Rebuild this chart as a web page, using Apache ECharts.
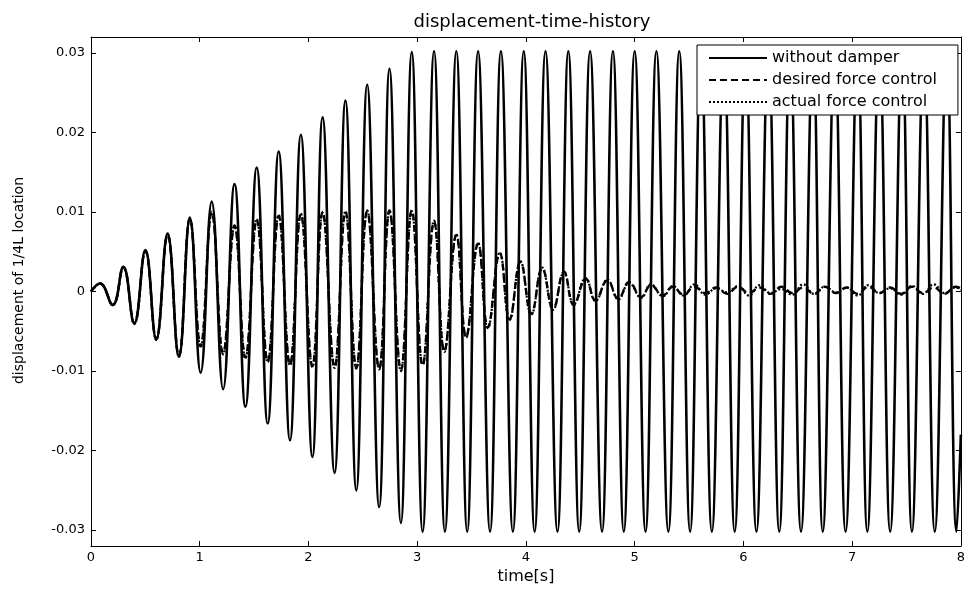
<!DOCTYPE html>
<html>
<head>
<meta charset="utf-8">
<script src="https://cdn.jsdelivr.net/npm/echarts@6/dist/echarts.min.js"></script>
<style>html,body{margin:0;padding:0;background:#fff}#c{width:968px;height:590px}</style>
</head>
<body>
<div id="c"></div>
<script>
// ---- data ----
var seriesNames = ['without damper', 'desired force control', 'actual force control'];
var xTicks = [0, 1, 2, 3, 4, 5, 6, 7, 8];
var xTickLabels = ['0', '1', '2', '3', '4', '5', '6', '7', '8'];
var yTicks = [-0.03, -0.02, -0.01, 0, 0.01, 0.02, 0.03];
var yTickLabels = ['-0.03', '-0.02', '-0.01', '0', '0.01', '0.02', '0.03'];

// without damper: start/end points, peak and trough times/values
var uStart = [0, 0];
var uEnd = [8.0, -0.018];
var uPeakT = [0.083,0.297,0.500,0.704,0.909,1.110,1.320,1.524,1.726,1.930,2.130,2.340,2.540,2.745,2.950,3.155,3.360,3.560,3.770,3.980,4.180,4.390,4.590,4.800,5.000,5.200,5.410,5.610,5.820,6.020,6.230,6.430,6.640,6.840,7.050,7.250,7.460,7.660,7.870];
var uPeakV = [0.0010,0.0031,0.0052,0.0073,0.0093,0.0113,0.0135,0.0156,0.0176,0.0197,0.0219,0.0240,0.0260,0.0280,0.0301,0.0302,0.0302,0.0302,0.0302,0.0302,0.0302,0.0302,0.0302,0.0302,0.0302,0.0302,0.0302,0.0302,0.0302,0.0302,0.0302,0.0302,0.0302,0.0302,0.0302,0.0302,0.0302,0.0302,0.0302];
var uTroughT = [0.199,0.398,0.600,0.808,1.008,1.215,1.420,1.625,1.830,2.036,2.240,2.440,2.650,2.850,3.050,3.255,3.460,3.670,3.880,4.080,4.290,4.490,4.700,4.900,5.100,5.310,5.510,5.710,5.920,6.120,6.330,6.530,6.730,6.940,7.140,7.350,7.550,7.760,7.960];
var uTroughV = [-0.0017,-0.0040,-0.0060,-0.0082,-0.0102,-0.0123,-0.0145,-0.0166,-0.0187,-0.0208,-0.0228,-0.0250,-0.0271,-0.0291,-0.0302,-0.0302,-0.0302,-0.0302,-0.0302,-0.0302,-0.0302,-0.0302,-0.0302,-0.0302,-0.0302,-0.0302,-0.0302,-0.0302,-0.0302,-0.0302,-0.0302,-0.0302,-0.0302,-0.0302,-0.0302,-0.0302,-0.0302,-0.0302,-0.0302];

// controlled response (shared times for desired and actual)
var cStart = [0, 0];
var cPeakT = [0.083,0.297,0.500,0.704,0.909,1.110,1.320,1.524,1.726,1.930,2.130,2.340,2.540,2.745,2.950,3.155,3.360,3.560,3.760,3.950,4.150,4.350,4.550,4.750,4.950,5.150,5.350,5.550,5.750,5.950,6.150,6.350,6.550,6.750,6.950,7.150,7.350,7.550,7.750,7.950];
var cTroughT = [0.199,0.398,0.600,0.808,1.008,1.215,1.420,1.625,1.830,2.036,2.240,2.440,2.650,2.850,3.050,3.250,3.450,3.650,3.850,4.050,4.250,4.440,4.640,4.850,5.060,5.260,5.450,5.650,5.850,6.050,6.250,6.450,6.650,6.850,7.050,7.250,7.450,7.650,7.850];
var desiredEnd = [8.0, 0.0004];
var desiredPeakV = [0.0010,0.0031,0.0051,0.0071,0.0092,0.0100,0.0083,0.0090,0.0095,0.0097,0.0100,0.0100,0.0101,0.0102,0.0102,0.0088,0.0071,0.0060,0.0048,0.0037,0.0029,0.0025,0.0016,0.0014,0.0012,0.0008,0.0006,0.0006,0.0005,0.0006,0.0005,0.0006,0.0005,0.0006,0.0005,0.0006,0.0005,0.0006,0.0005,0.0006];
var desiredTroughV = [-0.0017,-0.0040,-0.0060,-0.0081,-0.0069,-0.0078,-0.0083,-0.0088,-0.0092,-0.0094,-0.0095,-0.0096,-0.0097,-0.0099,-0.0093,-0.0075,-0.0057,-0.0045,-0.0035,-0.0028,-0.0022,-0.0017,-0.0011,-0.0009,-0.0007,-0.0005,-0.0004,-0.0002,-0.0003,-0.0002,-0.0003,-0.0002,-0.0003,-0.0002,-0.0003,-0.0002,-0.0003,-0.0002,-0.0003];
var actualEnd = [8.0, 0.0002];
var actualPeakV = [0.0010,0.0030,0.0051,0.0072,0.0091,0.0099,0.0082,0.0091,0.0096,0.0098,0.0099,0.0101,0.0102,0.0101,0.0101,0.0089,0.0072,0.0061,0.0049,0.0038,0.0030,0.0024,0.0017,0.0015,0.0011,0.0009,0.0007,0.0009,0.0004,0.0007,0.0008,0.0003,0.0009,0.0006,0.0005,0.0008,0.0004,0.0007,0.0009,0.0005];
var actualTroughV = [-0.0017,-0.0041,-0.0061,-0.0082,-0.0070,-0.0079,-0.0084,-0.0089,-0.0093,-0.0095,-0.0096,-0.0097,-0.0098,-0.0100,-0.0092,-0.0076,-0.0058,-0.0046,-0.0036,-0.0029,-0.0023,-0.0016,-0.0012,-0.0010,-0.0008,-0.0006,-0.0005,-0.0004,-0.0001,-0.0005,-0.0002,-0.0004,-0.0003,-0.0001,-0.0005,-0.0002,-0.0004,-0.0003,-0.0002];

// ---- build [t, v] tables ----
function build(start, pt, pv, tt, tv, end) {
  var pts = [start];
  for (var i = 0; i < pt.length; i++) pts.push([pt[i], pv[i]]);
  for (var j = 0; j < tt.length; j++) pts.push([tt[j], tv[j]]);
  pts.push(end);
  pts.sort(function (a, b) { return a[0] - b[0]; });
  return pts;
}
var undampedData = build(uStart, uPeakT, uPeakV, uTroughT, uTroughV, uEnd);
var desiredData = build(cStart, cPeakT, desiredPeakV, cTroughT, desiredTroughV, desiredEnd);
var actualData = build(cStart, cPeakT, actualPeakV, cTroughT, actualTroughV, actualEnd);

var FONT = 'DejaVu Sans';
var chart = echarts.init(document.getElementById('c'), null, { renderer: 'canvas' });
var tickStyle = { show: true, inside: true, length: 5, lineStyle: { color: '#000', width: 1 } };
chart.setOption({
  animation: false,
  backgroundColor: '#fff',
  title: {
    text: 'displacement-time-history',
    left: 527, top: 8, textAlign: 'center',
    textStyle: { fontFamily: FONT, fontSize: 18, fontWeight: 'normal', color: '#000' }
  },
  grid: { left: 91, right: 6, top: 37, bottom: 44 },
  legend: {
    data: seriesNames,
    orient: 'vertical',
    left: 697, top: 45,
    padding: [5, 21, 5, 11],
    itemWidth: 58, itemHeight: 14, itemGap: 6,
    backgroundColor: '#fff',
    borderColor: '#000', borderWidth: 1,
    itemStyle: { opacity: 0, borderWidth: 0 },
    textStyle: { fontFamily: FONT, fontSize: 16, color: '#000' }
  },
  xAxis: [{
    type: 'value', min: 0, max: 8, interval: 1,
    name: 'time[s]', nameLocation: 'middle', nameGap: 23,
    nameTextStyle: { fontFamily: FONT, fontSize: 16, color: '#000' },
    axisLine: { show: true, onZero: false, lineStyle: { color: '#000', width: 1 } },
    axisTick: tickStyle,
    axisLabel: {
      margin: 5, color: '#000', fontFamily: FONT, fontSize: 13,
      formatter: function (v) { var i = xTicks.indexOf(v); return i >= 0 ? xTickLabels[i] : ''; }
    },
    splitLine: { show: false }
  }, {
    type: 'value', min: 0, max: 8, interval: 1, position: 'top',
    axisLine: { show: true, onZero: false, lineStyle: { color: '#000', width: 1 } },
    axisTick: tickStyle, axisLabel: { show: false }, splitLine: { show: false }
  }],
  yAxis: [{
    type: 'value', min: -0.032, max: 0.032,
    name: 'displacement of 1/4L location', nameLocation: 'middle', nameGap: 65, nameRotate: 90,
    nameTextStyle: { fontFamily: FONT, fontSize: 14, color: '#000', padding: [0, 0, 0, 22] },
    axisLine: { show: true, onZero: false, lineStyle: { color: '#000', width: 1 } },
    axisTick: { show: true, inside: true, length: 5, customValues: yTicks, lineStyle: { color: '#000', width: 1 } },
    axisLabel: {
      margin: 6, color: '#000', fontFamily: FONT, fontSize: 13, customValues: yTicks,
      formatter: function (v) { var i = yTicks.indexOf(v); return i >= 0 ? yTickLabels[i] : ''; }
    },
    splitLine: { show: false }
  }, {
    type: 'value', min: -0.032, max: 0.032, position: 'right',
    axisLine: { show: true, onZero: false, lineStyle: { color: '#000', width: 1 } },
    axisTick: { show: true, inside: true, length: 5, customValues: yTicks, lineStyle: { color: '#000', width: 1 } },
    axisLabel: { show: false }, splitLine: { show: false }
  }],
  series: [{
    name: seriesNames[0], type: 'line', data: undampedData,
    smooth: 0.45, symbol: 'none', z: 2,
    lineStyle: { color: '#000', width: 2.6, type: 'solid' }, itemStyle: { color: '#000' }
  }, {
    name: seriesNames[1], type: 'line', data: desiredData,
    smooth: 0.45, symbol: 'none', z: 3,
    lineStyle: { color: '#000', width: 2.4, type: [7, 4] }, itemStyle: { color: '#000' }
  }, {
    name: seriesNames[2], type: 'line', data: actualData,
    smooth: 0.45, symbol: 'none', z: 4,
    lineStyle: { color: '#000', width: 2.2, type: [2, 2] }, itemStyle: { color: '#000' }
  }]
});
</script>
</body>
</html>
